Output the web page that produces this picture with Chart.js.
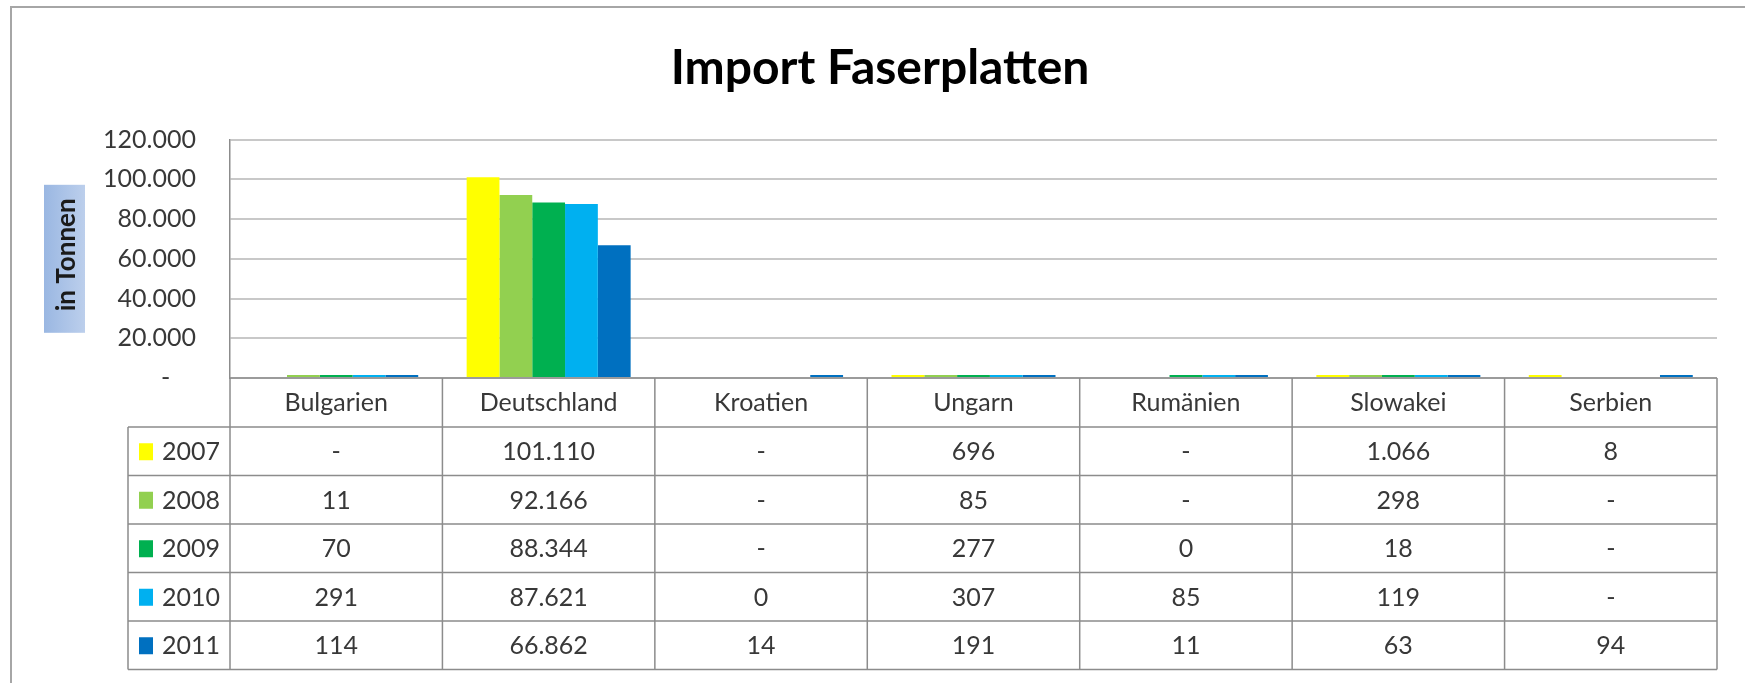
<!DOCTYPE html>
<html>
<head>
<meta charset="utf-8">
<script src="https://cdn.jsdelivr.net/npm/chart.js@4/dist/chart.umd.min.js"></script>
<style>
  html, body { margin: 0; padding: 0; background: #ffffff; }
  #wrap { width: 1745px; height: 683px; }
</style>
</head>
<body>
<div id="wrap"><canvas id="c" width="1745" height="683"></canvas></div>
<script>
const categories = ['Bulgarien', 'Deutschland', 'Kroatien', 'Ungarn', 'Rumänien', 'Slowakei', 'Serbien'];
const years = ['2007', '2008', '2009', '2010', '2011'];
const values2007 = [null, 101110, null, 696, null, 1066, 8];
const values2008 = [11, 92166, null, 85, null, 298, null];
const values2009 = [70, 88344, null, 277, 0.4, 18, null];
const values2010 = [291, 87621, 0, 307, 85, 119, null];
const values2011 = [114, 66862, 14, 191, 11, 63, 94];
const seriesColors = ['#FFFF00', '#92D050', '#00B050', '#00B0F0', '#0070C0'];
const yMax = 120000;
const yStep = 20000;
const titleText = 'Import Faserplatten';
const yTitleText = 'in Tonnen';

const seriesValues = [values2007, values2008, values2009, values2010, values2011];

function fmt(v) {
  if (v === null || v === undefined) return '-';
  const r = Math.round(v);
  return String(r).replace(/\B(?=(\d{3})+(?!\d))/g, '.');
}

const FONT = 'Lato';
const TEXT = '#383838';
const LINE = '#8c8c8c';

const framePlugin = {
  id: 'frame',
  beforeDraw(chart) {
    const ctx = chart.ctx;
    ctx.save();
    ctx.fillStyle = '#ffffff';
    ctx.fillRect(0, 0, chart.width, chart.height);
    ctx.strokeStyle = '#a6a6a6';
    ctx.lineWidth = 2;
    ctx.strokeRect(11, 7, chart.width + 20, chart.height + 20);
    ctx.restore();
  }
};

const yTitlePlugin = {
  id: 'ytitle',
  afterDraw(chart) {
    const ctx = chart.ctx;
    const a = chart.chartArea;
    const cy = (a.top + a.bottom) / 2;
    const bx = 44, bw = 41, bh = 148;
    ctx.save();
    const g = ctx.createLinearGradient(bx, 0, bx + bw, 0);
    g.addColorStop(0, '#9ab7e2');
    g.addColorStop(1, '#bccfec');
    ctx.fillStyle = g;
    ctx.fillRect(bx, cy - bh / 2, bw, bh);
    ctx.translate(bx + bw / 2 + 2, cy - 4);
    ctx.rotate(-Math.PI / 2);
    ctx.font = 'bold 26px ' + FONT;
    ctx.fillStyle = '#1a1a1a';
    ctx.textAlign = 'center';
    ctx.textBaseline = 'middle';
    ctx.fillText(yTitleText, 0, 0);
    ctx.restore();
  }
};

const tablePlugin = {
  id: 'datatable',
  afterDraw(chart) {
    const ctx = chart.ctx;
    const a = chart.chartArea;
    const xs = chart.scales.x;
    const n = categories.length;
    const cw = (xs.right - xs.left) / n;
    const legendLeft = 128;
    const headerBottom = a.bottom + 49;
    const rowH = 48.5;
    const tableBottom = headerBottom + years.length * rowH;
    ctx.save();
    ctx.strokeStyle = LINE;
    ctx.lineWidth = 1.5;
    ctx.beginPath();
    ctx.moveTo(a.left, a.bottom); ctx.lineTo(a.right, a.bottom);
    for (let r = 0; r <= years.length; r++) {
      const y = headerBottom + r * rowH;
      ctx.moveTo(legendLeft, y); ctx.lineTo(a.right, y);
    }
    ctx.moveTo(legendLeft, headerBottom); ctx.lineTo(legendLeft, tableBottom);
    for (let i = 0; i <= n; i++) {
      const x = xs.left + i * cw;
      ctx.moveTo(x, a.bottom); ctx.lineTo(x, tableBottom);
    }
    ctx.stroke();

    ctx.fillStyle = TEXT;
    ctx.font = '25px ' + FONT;
    ctx.textAlign = 'center';
    ctx.textBaseline = 'middle';
    for (let i = 0; i < n; i++) {
      const cx = xs.getPixelForValue(i);
      ctx.fillText(categories[i], cx, (a.bottom + headerBottom) / 2);
    }
    for (let r = 0; r < years.length; r++) {
      const cy = headerBottom + r * rowH + rowH / 2;
      ctx.fillStyle = seriesColors[r];
      ctx.fillRect(139, cy - 8, 14, 17);
      ctx.fillStyle = TEXT;
      ctx.textAlign = 'left';
      ctx.fillText(years[r], 162, cy + 1);
      ctx.textAlign = 'center';
      for (let i = 0; i < n; i++) {
        ctx.fillText(fmt(seriesValues[r][i]), xs.getPixelForValue(i), cy + 1);
      }
    }
    ctx.restore();
  }
};

const datasets = years.map((y, k) => ({
  label: y,
  data: seriesValues[k],
  backgroundColor: (c) => (c.raw === 0 ? 'rgba(0,0,0,0)' : seriesColors[k]),
  borderWidth: 0,
  categoryPercentage: 0.772,
  barPercentage: 1.0,
  minBarLength: 3
}));

new Chart(document.getElementById('c'), {
  type: 'bar',
  data: { labels: categories, datasets },
  options: {
    responsive: false,
    animation: false,
    devicePixelRatio: 1,
    layout: { padding: { left: 43, right: 28, top: 0, bottom: 14 } },
    plugins: {
      legend: { display: false },
      tooltip: { enabled: false },
      title: {
        display: true,
        text: titleText,
        color: '#000000',
        font: { family: FONT, size: 48, weight: 'bold', lineHeight: 1.2 },
        padding: { top: 40, bottom: 42 }
      }
    },
    scales: {
      x: {
        ticks: { display: false },
        grid: { display: false },
        border: { display: false },
        afterFit(s) { s.height = 291; }
      },
      y: {
        min: 0,
        max: yMax,
        ticks: {
          stepSize: yStep,
          padding: 34,
          color: TEXT,
          font: { family: FONT, size: 25 },
          callback: (v) => (v === 0 ? '-    ' : fmt(v))
        },
        grid: { color: '#c8c8c8', lineWidth: 2, drawTicks: false },
        border: { display: true, color: LINE, width: 1.5 },
        afterFit(s) { s.width = 187; }
      }
    }
  },
  plugins: [framePlugin, yTitlePlugin, tablePlugin]
});
</script>
</body>
</html>
